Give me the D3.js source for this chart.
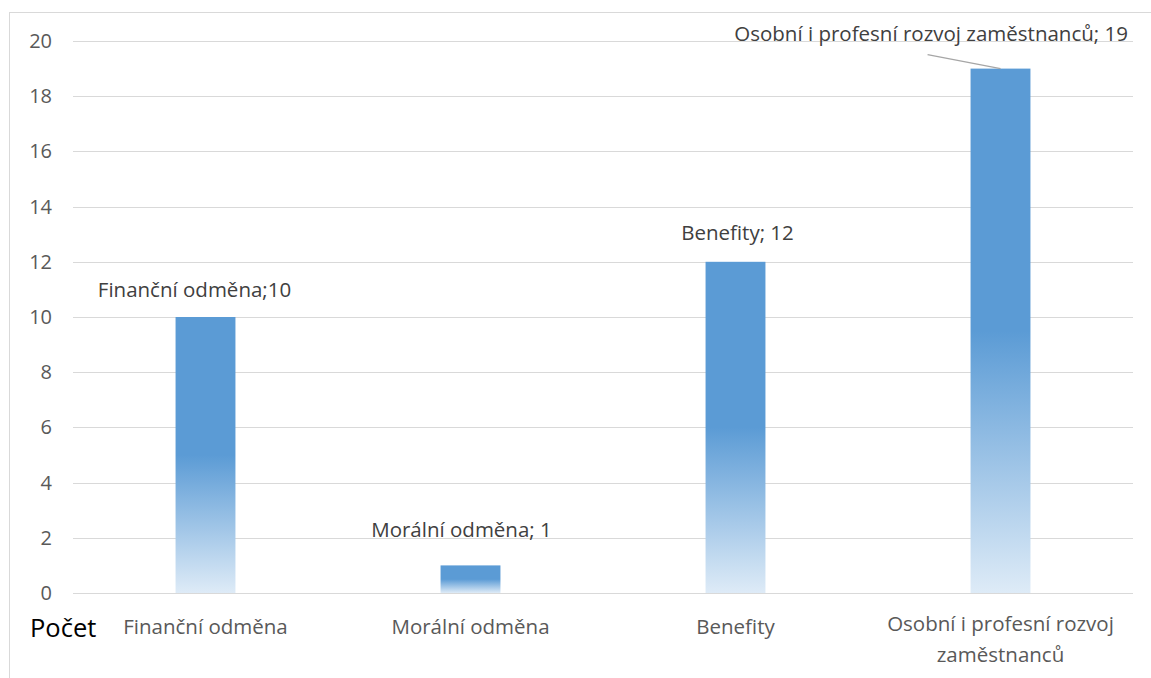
<!DOCTYPE html>
<head>
    <meta charset="utf-8" />
    <title>Počet</title>
    <script src="https://d3js.org/d3.v7.min.js"></script>
</head>
<style>
    body { margin: 0; background: #fff; }
    svg text { font-family: "Open Sans", Lato, sans-serif; }
    .grid line { stroke: #d9d9d9; stroke-width: 1px; shape-rendering: crispEdges; }
    .grid path { display: none; }
</style>
<body>
<svg id="chart" width="1151" height="678"></svg>
<script>
    // data
    var categories = ["Finanční odměna", "Morální odměna", "Benefity", "Osobní i profesní rozvoj zaměstnanců"];
    var catLines = [["Finanční odměna"], ["Morální odměna"], ["Benefity"], ["Osobní i profesní rozvoj", "zaměstnanců"]];
    var values = [10, 1, 12, 19];
    var dataLabels = ["Finanční odměna;10", "Morální odměna; 1", "Benefity; 12", "Osobní i profesní rozvoj zaměstnanců; 19"];
    var yTicks = [0, 2, 4, 6, 8, 10, 12, 14, 16, 18, 20];

    // labels were nudged by hand in the original, so small offsets
    var labelShift = [[-11, 20], [-9, 28], [2, 22]];

    var svg = d3.select("#chart");

    // outer frame
    svg.append("rect")
        .attr("x", 9.5).attr("y", 12.5)
        .attr("width", 1160).attr("height", 700)
        .attr("fill", "none")
        .attr("stroke", "#d9d9d9");

    var plotLeft = 73, plotRight = 1133, plotTop = 41, plotBottom = 593;

    var y = d3.scaleLinear().domain([0, 20]).range([plotBottom, plotTop]);
    var pad = 0.774;
    var x = d3.scaleBand().domain(categories).range([plotLeft, plotRight])
        .paddingInner(pad).paddingOuter(pad / 2);

    // gridlines
    svg.append("g")
        .attr("class", "grid")
        .attr("transform", "translate(" + plotLeft + ",0)")
        .call(d3.axisLeft(y).tickValues(yTicks).tickSize(-(plotRight - plotLeft)).tickFormat(""));

    // y tick labels
    svg.selectAll(".ylab")
        .data(yTicks)
        .enter().append("text")
        .attr("class", "ylab")
        .attr("x", 52)
        .attr("y", function(d) { return y(d); })
        .attr("dy", "0.35em")
        .attr("text-anchor", "end")
        .attr("fill", "#595959")
        .attr("font-size", "20px")
        .text(function(d) { return d; });

    // gradient
    var grad = svg.append("defs").append("linearGradient")
        .attr("id", "barGrad")
        .attr("x1", 0).attr("y1", 1).attr("x2", 0).attr("y2", 0);
    grad.append("stop").attr("offset", "0%").attr("stop-color", "#deebf7");
    grad.append("stop").attr("offset", "50%").attr("stop-color", "#5b9bd5");
    grad.append("stop").attr("offset", "100%").attr("stop-color", "#5b9bd5");

    svg.selectAll(".bar")
        .data(values)
        .enter().append("rect")
        .attr("class", "bar")
        .attr("x", function(d, i) { return x(categories[i]); })
        .attr("width", x.bandwidth())
        .attr("y", function(d) { return y(d); })
        .attr("height", function(d) { return plotBottom - y(d); })
        .attr("fill", "url(#barGrad)");

    // data labels (last one was moved up, with a leader line)
    svg.selectAll(".dlab")
        .data(values)
        .enter().append("text")
        .attr("class", "dlab")
        .attr("x", function(d, i) {
            return i == 3 ? plotRight - 5 : x(categories[i]) + x.bandwidth() / 2 + labelShift[i][0];
        })
        .attr("y", function(d, i) {
            return i == 3 ? y(20) : y(d) - labelShift[i][1];
        })
        .attr("text-anchor", function(d, i) { return i == 3 ? "end" : "middle"; })
        .attr("fill", "#404040")
        .attr("font-size", "20.5px")
        .text(function(d, i) { return dataLabels[i]; });

    svg.append("line")
        .attr("x1", x(categories[3]) - 43)
        .attr("y1", y(values[3]) - 14)
        .attr("x2", x(categories[3]) + 30)
        .attr("y2", y(values[3]))
        .attr("stroke", "#a6a6a6")
        .attr("stroke-width", 1.2);

    // category labels
    var cat = svg.selectAll(".clab")
        .data(catLines)
        .enter().append("text")
        .attr("class", "clab")
        .attr("text-anchor", "middle")
        .attr("fill", "#595959")
        .attr("font-size", "20.5px")
        .attr("transform", function(d, i) {
            return "translate(" + (x(categories[i]) + x.bandwidth() / 2) + "," + (d.length > 1 ? 631 : 634) + ")";
        });
    cat.selectAll("tspan")
        .data(function(d) { return d; })
        .enter().append("tspan")
        .attr("x", 0)
        .attr("dy", function(d, i) { return i ? 31 : 0; })
        .text(function(d) { return d; });

    // axis title
    svg.append("text")
        .attr("x", 30)
        .attr("y", 637)
        .attr("fill", "#000")
        .attr("font-size", "25.5px")
        .text("Počet");
</script>
</body>
